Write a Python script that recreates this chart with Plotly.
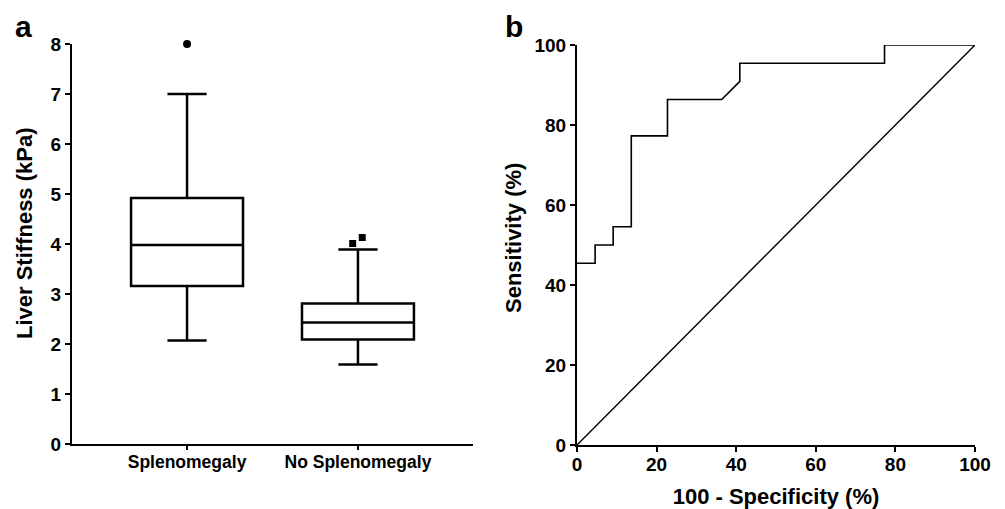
import plotly.graph_objects as go

# ---- Panel a data ----
categories = ["Splenomegaly", "No Splenomegaly"]
cat_pos = [0, 1]
q1_vals = [3.16, 2.09]
median_vals = [3.98, 2.43]
q3_vals = [4.92, 2.81]
lower_whisker = [2.07, 1.59]
upper_whisker = [7.0, 3.89]
outliers_spleno = [8.0]
outliers_spleno_offset = [0.0]
outliers_nospleno = [4.01, 4.13]
outliers_nospleno_offset = [-0.031, 0.025]

# ---- Panel b data ----
roc_fpr = [0, 4.55, 4.55, 9.09, 9.09, 13.64, 13.64, 22.73, 22.73, 36.36, 40.91, 40.91, 77.27, 77.27, 100]
roc_tpr = [45.45, 45.45, 50.0, 50.0, 54.55, 54.55, 77.27, 77.27, 86.36, 86.36, 90.91, 95.45, 95.45, 100, 100]
ref_x = [0, 100]
ref_y = [0, 100]
roc_ticks = [0, 20, 40, 60, 80, 100]
stiff_ticks = [0, 1, 2, 3, 4, 5, 6, 7, 8]

FONT = "Liberation Sans, Arial, sans-serif"
OFF = 8  # default page body margin
FW, FH = 1005 - OFF, 509 - OFF


def px_x(p):
    return (p - OFF) / FW


def px_y(p):
    return 1 - (p - OFF) / FH


fig = go.Figure()

for i in range(len(categories)):
    fig.add_trace(go.Box(
        x=[cat_pos[i]], q1=[q1_vals[i]], median=[median_vals[i]], q3=[q3_vals[i]],
        lowerfence=[lower_whisker[i]], upperfence=[upper_whisker[i]],
        width=0.655, whiskerwidth=0.35, boxpoints=False,
        fillcolor="white", line=dict(color="black", width=2.5),
        xaxis="x", yaxis="y", showlegend=False, hoverinfo="skip"))

fig.add_trace(go.Scatter(
    x=[cat_pos[0] + o for o in outliers_spleno_offset], y=outliers_spleno,
    mode="markers", marker=dict(symbol="circle", size=8, color="black"),
    cliponaxis=False, xaxis="x", yaxis="y", showlegend=False))
fig.add_trace(go.Scatter(
    x=[cat_pos[1] + o for o in outliers_nospleno_offset], y=outliers_nospleno,
    mode="markers", marker=dict(symbol="square", size=7, color="black"),
    cliponaxis=False, xaxis="x", yaxis="y", showlegend=False))

fig.add_trace(go.Scatter(
    x=roc_fpr, y=roc_tpr, mode="lines", line=dict(color="black", width=1.6),
    cliponaxis=False, xaxis="x2", yaxis="y2", showlegend=False))
fig.add_trace(go.Scatter(
    x=ref_x, y=ref_y, mode="lines", line=dict(color="black", width=1.4),
    cliponaxis=False, xaxis="x2", yaxis="y2", showlegend=False))

tickfont = dict(family=FONT, size=19, color="black", weight="bold")
titlefont = dict(family=FONT, size=22, color="black", weight="bold")
axis_common = dict(showline=True, linecolor="black", linewidth=2, ticks="outside",
                   tickcolor="black", tickwidth=2, showgrid=False,
                   zeroline=False, mirror=False, automargin=False)

fig.update_layout(
    width=FW, height=FH, plot_bgcolor="white", paper_bgcolor="white",
    margin=dict(l=0, r=0, t=0, b=0), showlegend=False,
    xaxis=dict(domain=[px_x(72), px_x(473)], range=[-0.673, 1.673],
               tickvals=cat_pos, ticktext=categories, ticklen=4, ticklabelstandoff=-3,
               tickfont=dict(family=FONT, size=17.5, color="black", weight="bold"),
               anchor="y", **axis_common),
    yaxis=dict(domain=[px_y(444), px_y(44)], range=[0, 8], tickvals=stiff_ticks,
               tickfont=tickfont, anchor="x", ticklen=5, **axis_common),
    xaxis2=dict(domain=[px_x(577), px_x(975)], range=[0, 100], tickvals=roc_ticks,
                tickfont=tickfont, anchor="y2", ticklen=5, ticklabelstandoff=-4,
                title=dict(text="100 - Specificity (%)", standoff=16, font=titlefont),
                **axis_common),
    yaxis2=dict(domain=[px_y(445), px_y(45)], range=[0, 100], tickvals=roc_ticks,
                tickfont=tickfont, anchor="x2", ticklen=5, **axis_common),
    annotations=[
        dict(text="Liver Stiffness (kPa)", x=px_x(24), y=px_y(233), xref="paper", yref="paper",
             xanchor="center", yanchor="middle", textangle=-90, showarrow=False,
             font=titlefont),
        dict(text="Sensitivity (%)", x=px_x(514), y=px_y(238), xref="paper", yref="paper",
             xanchor="center", yanchor="middle", textangle=-90, showarrow=False,
             font=titlefont),
        dict(text="a", x=px_x(13), y=px_y(8), xref="paper", yref="paper",
             xanchor="left", yanchor="top", showarrow=False,
             font=dict(family=FONT, size=30, color="black", weight="bold")),
        dict(text="b", x=px_x(503), y=px_y(8), xref="paper", yref="paper",
             xanchor="left", yanchor="top", showarrow=False,
             font=dict(family=FONT, size=30, color="black", weight="bold")),
    ],
)

fig.write_html("out.html")
